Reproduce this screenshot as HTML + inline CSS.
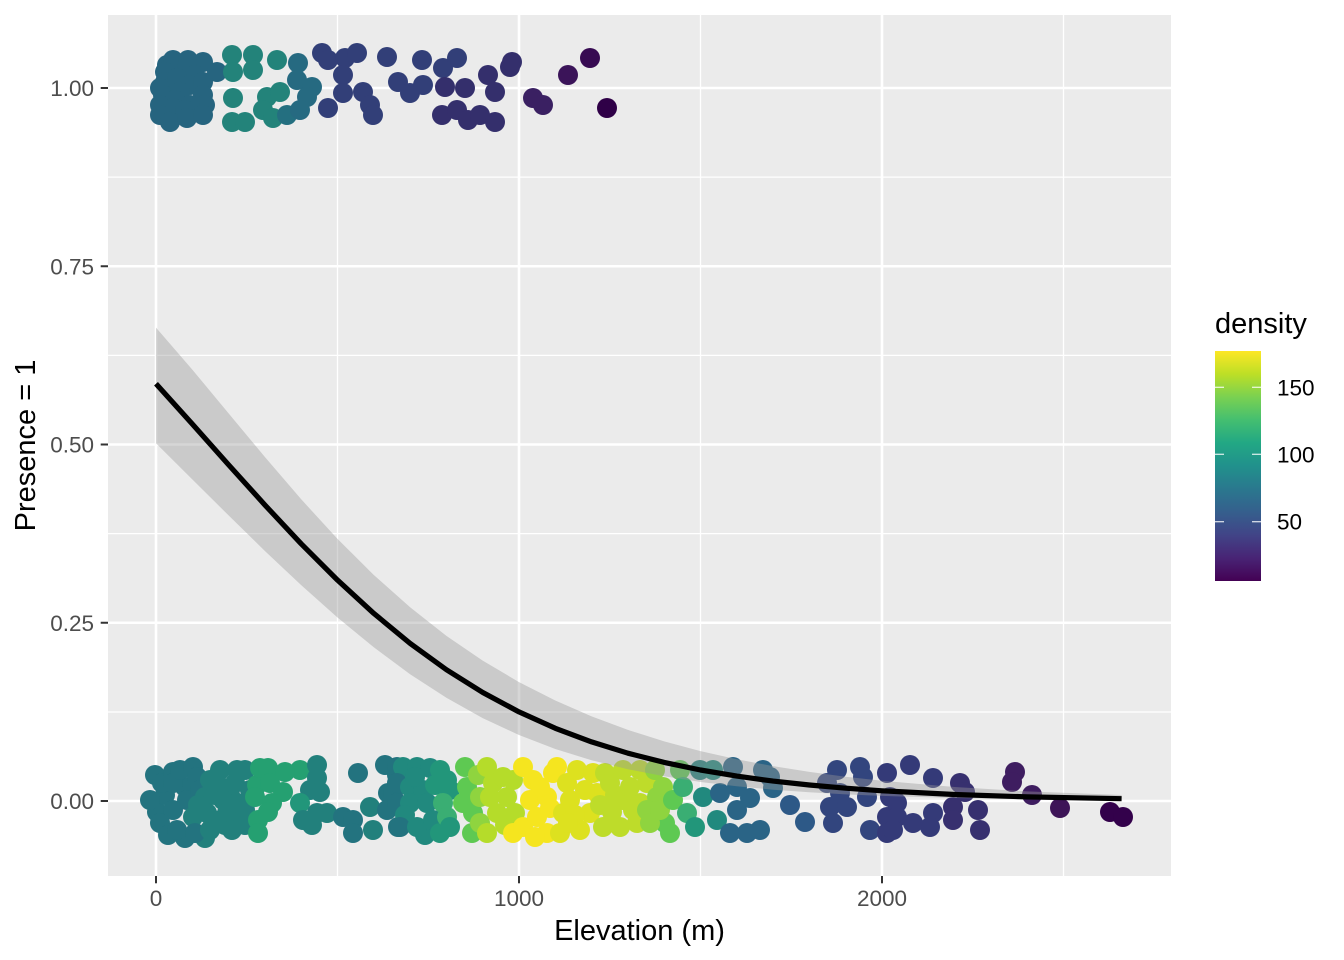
<!DOCTYPE html>
<html><head><meta charset="utf-8"><style>
html,body{margin:0;padding:0;background:#fff;}
svg{display:block;font-family:"Liberation Sans",Arial,sans-serif;}
circle{r:10px}
.A{fill:#26647f}.B{fill:#23837a}.B2{fill:#246f80}.C{fill:#266a81}.D{fill:#323f78}.E{fill:#342f6c}.F{fill:#3a2062}.G{fill:#3b1459}.G2{fill:#370a52}.H{fill:#2f0047}
.T1{fill:#23737f}.T2{fill:#22807c}.T3{fill:#21897e}.G1{fill:#25a071}.Gr2{fill:#22967a}.G3{fill:#3aae73}.L1{fill:#5ec952}.L2{fill:#8fd43f}
.Y1{fill:#b5dc2a}.Y2{fill:#dde11f}.Y3{fill:#f5e51f}.Y4{fill:#bedc2a}.T4{fill:#2a6486}.P1{fill:#2d5987}.P2{fill:#32457e}.P3{fill:#343a78}.P4{fill:#37306f}
.V1{fill:#3e1d60}.V2{fill:#3d1457}.V3{fill:#33014b}
</style></head><body>
<svg width="1344" height="960" viewBox="0 0 1344 960" xmlns="http://www.w3.org/2000/svg">
<defs>
<linearGradient id="vir" x1="0" y1="1" x2="0" y2="0">
<stop offset="0" stop-color="#440154"/><stop offset="0.1" stop-color="#482475"/><stop offset="0.2" stop-color="#414487"/><stop offset="0.3" stop-color="#355f8d"/><stop offset="0.4" stop-color="#2a788e"/><stop offset="0.5" stop-color="#21918c"/><stop offset="0.6" stop-color="#22a884"/><stop offset="0.7" stop-color="#44bf70"/><stop offset="0.8" stop-color="#7ad151"/><stop offset="0.9" stop-color="#bddf26"/><stop offset="1" stop-color="#fde725"/>
</linearGradient>
<clipPath id="pc"><rect x="108" y="15" width="1063" height="861"/></clipPath>
</defs>
<rect x="108" y="15" width="1063" height="861" fill="#ebebeb"/>
<g stroke="#fff" stroke-width="1.3">
<line x1="108" x2="1171" y1="177.1" y2="177.1"/><line x1="108" x2="1171" y1="355.4" y2="355.4"/><line x1="108" x2="1171" y1="533.6" y2="533.6"/><line x1="108" x2="1171" y1="712" y2="712"/>
<line y1="15" y2="876" x1="337.5" x2="337.5"/><line y1="15" y2="876" x1="700.5" x2="700.5"/><line y1="15" y2="876" x1="1063.5" x2="1063.5"/>
</g>
<g stroke="#fff" stroke-width="2.6">
<line x1="108" x2="1171" y1="88" y2="88"/><line x1="108" x2="1171" y1="266.25" y2="266.25"/><line x1="108" x2="1171" y1="444.5" y2="444.5"/><line x1="108" x2="1171" y1="622.75" y2="622.75"/><line x1="108" x2="1171" y1="801" y2="801"/>
<line y1="15" y2="876" x1="156" x2="156"/><line y1="15" y2="876" x1="519" x2="519"/><line y1="15" y2="876" x1="882" x2="882"/>
</g>
<g clip-path="url(#pc)">
<!-- top band -->
<circle class="A" cx="167" cy="65" r="10"/><circle class="A" cx="173" cy="60" r="10"/><circle class="A" cx="188" cy="60" r="10"/><circle class="A" cx="203" cy="62" r="10"/>
<circle class="A" cx="165" cy="72" r="10"/><circle class="A" cx="187" cy="68" r="10"/><circle class="A" cx="217" cy="72" r="10"/><circle class="A" cx="195" cy="75" r="10"/>
<circle class="A" cx="165" cy="82" r="10"/><circle class="A" cx="177" cy="78" r="10"/><circle class="A" cx="190" cy="85" r="10"/><circle class="A" cx="203" cy="82" r="10"/>
<circle class="A" cx="160" cy="88" r="10"/><circle class="A" cx="163" cy="95" r="10"/><circle class="A" cx="180" cy="92" r="10"/><circle class="A" cx="203" cy="95" r="10"/>
<circle class="A" cx="175" cy="100" r="10"/><circle class="A" cx="160" cy="105" r="10"/><circle class="A" cx="205" cy="105" r="10"/><circle class="A" cx="173" cy="108" r="10"/><circle class="A" cx="190" cy="105" r="10"/><circle class="A" cx="185" cy="110" r="10"/>
<circle class="A" cx="160" cy="115" r="10"/><circle class="A" cx="170" cy="122" r="10"/><circle class="A" cx="187" cy="118" r="10"/><circle class="A" cx="203" cy="115" r="10"/>
<circle class="B" cx="232" cy="55" r="10"/><circle class="B" cx="253" cy="55" r="10"/><circle class="B" cx="277" cy="60" r="10"/><circle class="B" cx="233" cy="72" r="10"/><circle class="B" cx="253" cy="70" r="10"/>
<circle class="B" cx="233" cy="98" r="10"/><circle class="B" cx="232" cy="122" r="10"/><circle class="B" cx="245" cy="122" r="10"/><circle class="B" cx="267" cy="97" r="10"/><circle class="B" cx="280" cy="92" r="10"/>
<circle class="B" cx="263" cy="110" r="10"/><circle class="B" cx="273" cy="118" r="10"/><circle class="B2" cx="287" cy="115" r="10"/>
<circle class="C" cx="298" cy="63" r="10"/><circle class="C" cx="297" cy="80" r="10"/><circle class="C" cx="312" cy="87" r="10"/><circle class="C" cx="307" cy="97" r="10"/><circle class="C" cx="300" cy="110" r="10"/>
<circle class="D" cx="322" cy="53" r="10"/><circle class="D" cx="328" cy="60" r="10"/><circle class="D" cx="345" cy="58" r="10"/><circle class="D" cx="357" cy="53" r="10"/><circle class="D" cx="343" cy="75" r="10"/>
<circle class="D" cx="343" cy="93" r="10"/><circle class="D" cx="328" cy="108" r="10"/><circle class="D" cx="363" cy="92" r="10"/><circle class="D" cx="370" cy="105" r="10"/><circle class="D" cx="373" cy="115" r="10"/>
<circle class="D" cx="387" cy="57" r="10"/><circle class="D" cx="422" cy="60" r="10"/><circle class="D" cx="443" cy="68" r="10"/><circle class="D" cx="457" cy="58" r="10"/><circle class="D" cx="398" cy="82" r="10"/>
<circle class="D" cx="410" cy="93" r="10"/><circle class="D" cx="423" cy="85" r="10"/>
<circle class="E" cx="445" cy="87" r="10"/><circle class="E" cx="465" cy="88" r="10"/><circle class="E" cx="442" cy="115" r="10"/><circle class="E" cx="457" cy="110" r="10"/><circle class="E" cx="468" cy="120" r="10"/>
<circle class="E" cx="480" cy="115" r="10"/><circle class="E" cx="495" cy="122" r="10"/><circle class="E" cx="488" cy="75" r="10"/><circle class="E" cx="495" cy="92" r="10"/><circle class="E" cx="510" cy="67" r="10"/><circle class="E" cx="512" cy="62" r="10"/>
<circle class="F" cx="533" cy="98" r="10"/><circle class="F" cx="543" cy="105" r="10"/><circle class="G" cx="568" cy="75" r="10"/><circle class="G2" cx="590" cy="58" r="10"/><circle class="H" cx="607" cy="108" r="10"/>
<!-- bottom band -->
<circle class="T1" cx="155" cy="775" r="10"/><circle class="T1" cx="157" cy="812" r="10"/><circle class="T1" cx="160" cy="823" r="10"/><circle class="T1" cx="165" cy="795" r="10"/><circle class="T1" cx="168" cy="835" r="10"/>
<circle class="T1" cx="150" cy="800" r="10"/><circle class="T1" cx="162" cy="783" r="10"/><circle class="T1" cx="185" cy="787" r="10"/><circle class="T1" cx="185" cy="838" r="10"/><circle class="T2" cx="205" cy="838" r="10"/>
<circle class="T1" cx="173" cy="772" r="10"/><circle class="T1" cx="173" cy="783" r="10"/><circle class="T1" cx="173" cy="810" r="10"/><circle class="T1" cx="177" cy="830" r="10"/><circle class="T1" cx="180" cy="770" r="10"/>
<circle class="T1" cx="187" cy="800" r="10"/><circle class="T1" cx="193" cy="767" r="10"/><circle class="T1" cx="197" cy="777" r="10"/><circle class="T2" cx="193" cy="817" r="10"/><circle class="T1" cx="195" cy="833" r="10"/>
<circle class="T1" cx="200" cy="790" r="10"/><circle class="T2" cx="205" cy="797" r="10"/><circle class="T2" cx="207" cy="813" r="10"/><circle class="T2" cx="210" cy="780" r="10"/><circle class="T2" cx="210" cy="830" r="10"/>
<circle class="T2" cx="198" cy="805" r="10"/><circle class="T2" cx="213" cy="820" r="10"/><circle class="T2" cx="230" cy="795" r="10"/><circle class="T2" cx="240" cy="818" r="10"/>
<circle class="T2" cx="215" cy="795" r="10"/><circle class="T2" cx="217" cy="783" r="10"/><circle class="T2" cx="220" cy="770" r="10"/><circle class="T2" cx="223" cy="800" r="10"/><circle class="T2" cx="225" cy="825" r="10"/>
<circle class="T2" cx="227" cy="813" r="10"/><circle class="T2" cx="232" cy="830" r="10"/><circle class="T2" cx="235" cy="783" r="10"/><circle class="T2" cx="237" cy="770" r="10"/><circle class="T2" cx="237" cy="803" r="10"/>
<circle class="T2" cx="245" cy="810" r="10"/><circle class="T2" cx="245" cy="825" r="10"/><circle class="T2" cx="250" cy="790" r="10"/><circle class="T2" cx="245" cy="770" r="10"/>
<circle class="G1" cx="257" cy="785" r="10"/><circle class="G1" cx="260" cy="768" r="10"/><circle class="G1" cx="268" cy="768" r="10"/><circle class="G1" cx="270" cy="783" r="10"/><circle class="G1" cx="283" cy="792" r="10"/>
<circle class="G1" cx="255" cy="797" r="10"/><circle class="G1" cx="258" cy="820" r="10"/><circle class="G1" cx="258" cy="833" r="10"/><circle class="G1" cx="272" cy="803" r="10"/><circle class="G1" cx="300" cy="770" r="10"/>
<circle class="G1" cx="285" cy="772" r="10"/><circle class="G1" cx="268" cy="812" r="10"/><circle class="T2" cx="310" cy="790" r="10"/>
<circle class="Gr2" cx="300" cy="803" r="10"/><circle class="T2" cx="303" cy="820" r="10"/><circle class="T2" cx="312" cy="825" r="10"/><circle class="T2" cx="317" cy="765" r="10"/><circle class="T2" cx="317" cy="778" r="10"/>
<circle class="T2" cx="320" cy="792" r="10"/><circle class="T2" cx="317" cy="813" r="10"/><circle class="T2" cx="327" cy="813" r="10"/>
<circle class="T1" cx="343" cy="817" r="10"/><circle class="T1" cx="353" cy="820" r="10"/><circle class="T1" cx="353" cy="833" r="10"/><circle class="T1" cx="358" cy="773" r="10"/><circle class="T2" cx="370" cy="807" r="10"/>
<circle class="T2" cx="373" cy="830" r="10"/><circle class="T1" cx="385" cy="765" r="10"/><circle class="T1" cx="388" cy="793" r="10"/><circle class="T1" cx="387" cy="810" r="10"/><circle class="T1" cx="393" cy="793" r="10"/>
<circle class="T1" cx="397" cy="775" r="10"/><circle class="T1" cx="398" cy="827" r="10"/>
<circle class="T1" cx="397" cy="767" r="10"/><circle class="T3" cx="403" cy="767" r="10"/><circle class="T3" cx="417" cy="767" r="10"/><circle class="T3" cx="430" cy="768" r="10"/><circle class="T1" cx="397" cy="783" r="10"/>
<circle class="T3" cx="410" cy="787" r="10"/><circle class="T3" cx="423" cy="790" r="10"/><circle class="T1" cx="397" cy="803" r="10"/><circle class="T3" cx="410" cy="803" r="10"/><circle class="T3" cx="427" cy="803" r="10"/>
<circle class="T3" cx="405" cy="815" r="10"/><circle class="T3" cx="425" cy="835" r="10"/><circle class="T3" cx="415" cy="777" r="10"/><circle class="Gr2" cx="440" cy="770" r="10"/>
<circle class="T1" cx="400" cy="827" r="10"/><circle class="T3" cx="417" cy="827" r="10"/><circle class="T3" cx="433" cy="820" r="10"/><circle class="Gr2" cx="440" cy="833" r="10"/><circle class="Gr2" cx="435" cy="785" r="10"/>
<circle class="Gr2" cx="447" cy="780" r="10"/><circle class="Gr2" cx="450" cy="790" r="10"/><circle class="G3" cx="443" cy="803" r="10"/><circle class="G3" cx="447" cy="817" r="10"/><circle class="Gr2" cx="450" cy="827" r="10"/>
<circle class="L1" cx="465" cy="767" r="10"/><circle class="L1" cx="467" cy="787" r="10"/><circle class="L1" cx="463" cy="803" r="10"/><circle class="L1" cx="473" cy="813" r="10"/><circle class="L1" cx="472" cy="833" r="10"/>
<circle class="L2" cx="478" cy="775" r="10"/><circle class="L2" cx="480" cy="797" r="10"/><circle class="L2" cx="480" cy="823" r="10"/>
<circle class="Y1" cx="487" cy="767" r="10"/><circle class="Y1" cx="493" cy="783" r="10"/><circle class="Y1" cx="490" cy="797" r="10"/><circle class="Y1" cx="497" cy="813" r="10"/><circle class="Y1" cx="487" cy="833" r="10"/>
<circle class="Y1" cx="503" cy="777" r="10"/><circle class="Y1" cx="507" cy="797" r="10"/><circle class="Y1" cx="513" cy="780" r="10"/><circle class="Y1" cx="505" cy="825" r="10"/><circle class="Y1" cx="515" cy="813" r="10"/><circle class="Y3" cx="513" cy="833" r="10"/>
<circle class="Y3" cx="523" cy="767" r="10"/><circle class="Y3" cx="533" cy="780" r="10"/><circle class="Y3" cx="530" cy="800" r="10"/><circle class="Y3" cx="523" cy="827" r="10"/><circle class="Y3" cx="537" cy="817" r="10"/>
<circle class="Y3" cx="547" cy="797" r="10"/><circle class="Y3" cx="547" cy="833" r="10"/><circle class="Y3" cx="553" cy="773" r="10"/><circle class="Y3" cx="557" cy="767" r="10"/>
<circle class="Y3" cx="540" cy="787" r="10"/><circle class="Y3" cx="550" cy="808" r="10"/><circle class="Y3" cx="535" cy="837" r="10"/>
<circle class="Y2" cx="567" cy="783" r="10"/><circle class="Y2" cx="563" cy="813" r="10"/><circle class="Y2" cx="560" cy="833" r="10"/><circle class="Y2" cx="570" cy="800" r="10"/><circle class="Y2" cx="577" cy="770" r="10"/>
<circle class="Y2" cx="580" cy="830" r="10"/><circle class="Y2" cx="590" cy="813" r="10"/><circle class="Y2" cx="593" cy="773" r="10"/><circle class="Y2" cx="597" cy="793" r="10"/><circle class="Y2" cx="575" cy="815" r="10"/><circle class="Y2" cx="585" cy="790" r="10"/>
<circle class="Y2" cx="568" cy="823" r="10"/><circle class="Y4" cx="600" cy="805" r="10"/><circle class="Y4" cx="605" cy="773" r="10"/><circle class="Y4" cx="615" cy="795" r="10"/>
<circle class="Y4" cx="603" cy="827" r="10"/><circle class="Y4" cx="610" cy="783" r="10"/><circle class="Y4" cx="623" cy="800" r="10"/><circle class="Y4" cx="623" cy="770" r="10"/><circle class="Y4" cx="620" cy="827" r="10"/>
<circle class="Y4" cx="637" cy="823" r="10"/><circle class="Y4" cx="640" cy="803" r="10"/><circle class="Y4" cx="647" cy="783" r="10"/><circle class="Y4" cx="640" cy="770" r="10"/><circle class="Y4" cx="612" cy="812" r="10"/><circle class="Y4" cx="630" cy="787" r="10"/>
<circle class="Y4" cx="633" cy="810" r="10"/><circle class="L2" cx="655" cy="770" r="10"/><circle class="L2" cx="657" cy="797" r="10"/><circle class="L1" cx="665" cy="823" r="10"/>
<circle class="L2" cx="647" cy="810" r="10"/><circle class="L2" cx="650" cy="823" r="10"/><circle class="L2" cx="660" cy="810" r="10"/><circle class="L2" cx="663" cy="787" r="10"/><circle class="L1" cx="670" cy="833" r="10"/>
<circle class="L1" cx="673" cy="800" r="10"/><circle class="L1" cx="680" cy="770" r="10"/><circle class="G3" cx="683" cy="787" r="10"/><circle class="G3" cx="687" cy="813" r="10"/><circle class="Gr2" cx="695" cy="827" r="10"/>
<circle class="T2" cx="700" cy="770" r="10"/><circle class="T3" cx="703" cy="797" r="10"/><circle class="T3" cx="713" cy="770" r="10"/><circle class="T3" cx="717" cy="820" r="10"/><circle class="T4" cx="720" cy="793" r="10"/>
<circle class="T4" cx="730" cy="833" r="10"/><circle class="T4" cx="733" cy="767" r="10"/><circle class="T4" cx="737" cy="810" r="10"/><circle class="T4" cx="737" cy="787" r="10"/><circle class="T4" cx="750" cy="798" r="10"/>
<circle class="T4" cx="747" cy="833" r="10"/><circle class="T4" cx="760" cy="830" r="10"/><circle class="T4" cx="763" cy="770" r="10"/><circle class="T4" cx="770" cy="777" r="10"/><circle class="T4" cx="773" cy="788" r="10"/>
<circle class="P1" cx="790" cy="805" r="10"/><circle class="P1" cx="805" cy="822" r="10"/>
<circle class="P2" cx="827" cy="783" r="10"/><circle class="P2" cx="830" cy="807" r="10"/><circle class="P2" cx="837" cy="770" r="10"/><circle class="P2" cx="840" cy="793" r="10"/><circle class="P2" cx="833" cy="823" r="10"/>
<circle class="P2" cx="847" cy="807" r="10"/><circle class="P2" cx="860" cy="767" r="10"/><circle class="P2" cx="863" cy="777" r="10"/><circle class="P2" cx="867" cy="797" r="10"/><circle class="P2" cx="870" cy="830" r="10"/>
<circle class="P3" cx="887" cy="773" r="10"/><circle class="P3" cx="890" cy="797" r="10"/><circle class="P3" cx="887" cy="817" r="10"/><circle class="P3" cx="887" cy="833" r="10"/>
<circle class="P3" cx="910" cy="765" r="10"/><circle class="P3" cx="933" cy="778" r="10"/><circle class="P3" cx="897" cy="803" r="10"/><circle class="P3" cx="897" cy="817" r="10"/><circle class="P3" cx="893" cy="830" r="10"/>
<circle class="P3" cx="913" cy="823" r="10"/><circle class="P3" cx="933" cy="813" r="10"/><circle class="P3" cx="930" cy="827" r="10"/>
<circle class="P4" cx="960" cy="783" r="10"/><circle class="P4" cx="965" cy="792" r="10"/><circle class="P4" cx="953" cy="807" r="10"/><circle class="P4" cx="953" cy="820" r="10"/><circle class="P4" cx="978" cy="810" r="10"/><circle class="P4" cx="980" cy="830" r="10"/>
<circle class="V1" cx="1015" cy="772" r="10"/><circle class="V1" cx="1012" cy="782" r="10"/><circle class="V1" cx="1032" cy="795" r="10"/><circle class="V2" cx="1060" cy="808" r="10"/><circle class="V3" cx="1110" cy="812" r="10"/><circle class="V3" cx="1123" cy="817" r="10"/>
<!-- ribbon -->
<path fill="#999999" fill-opacity="0.4" d="M156,327.6 L192.3,369.6 L228.6,413.4 L264.9,457.0 L301.2,499.3 L337.5,538.9 L373.8,575.0 L410.1,607.3 L446.4,635.9 L482.7,660.6 L519,682.1 L555.3,700.5 L591.6,716.4 L627.9,729.9 L664.2,741.4 L700.5,751.1 L736.8,759.3 L773.1,766.1 L809.4,771.9 L845.7,776.8 L882,780.8 L954.6,787.0 L1027.2,791.4 L1121.6,795.0 L1121.6,800.1 L1027.2,799.3 L954.6,798.0 L882,795.9 L845.7,794.4 L809.4,792.3 L773.1,789.7 L736.8,786.3 L700.5,782.0 L664.2,776.3 L627.9,769.2 L591.6,760.2 L555.3,749.0 L519,735.0 L482.7,718.1 L446.4,697.8 L410.1,674.3 L373.8,647.3 L337.5,617.5 L301.2,585.1 L264.9,551.0 L228.6,515.4 L192.3,479.4 L156,443.3 Z"/>
<polyline fill="none" stroke="#000" stroke-width="5.2" stroke-linejoin="round" points="156,383.8 192.3,424.0 228.6,464.8 264.9,505.0 301.2,543.8 337.5,580.1 373.8,613.4 410.1,643.4 446.4,669.7 482.7,692.4 519,711.9 555.3,728.3 591.6,741.9 627.9,753.2 664.2,762.4 700.5,770.0 736.8,776.1 773.1,781.1 809.4,785.0 845.7,788.2 882,790.8 954.6,794.5 1027.2,796.9 1121.6,798.7"/>
</g>
<!-- axes ticks -->
<g stroke="#333" stroke-width="2">
<line x1="100.7" x2="108" y1="88" y2="88"/><line x1="100.7" x2="108" y1="266.25" y2="266.25"/><line x1="100.7" x2="108" y1="444.5" y2="444.5"/><line x1="100.7" x2="108" y1="622.75" y2="622.75"/><line x1="100.7" x2="108" y1="801" y2="801"/>
<line y1="876" y2="883.3" x1="156" x2="156"/><line y1="876" y2="883.3" x1="519" x2="519"/><line y1="876" y2="883.3" x1="882" x2="882"/>
</g>
<g fill="#4d4d4d" font-size="22.5" text-anchor="end">
<text x="94" y="96">1.00</text><text x="94" y="274.25">0.75</text><text x="94" y="452.5">0.50</text><text x="94" y="630.75">0.25</text><text x="94" y="809">0.00</text>
</g>
<g fill="#4d4d4d" font-size="22.5" text-anchor="middle">
<text x="156" y="906">0</text><text x="519" y="906">1000</text><text x="882" y="906">2000</text>
</g>
<text x="639.5" y="940" font-size="29" text-anchor="middle" fill="#000">Elevation (m)</text>
<text transform="translate(35,445.5) rotate(-90)" font-size="29" text-anchor="middle" fill="#000">Presence = 1</text>
<!-- legend -->
<text x="1215" y="333" font-size="29" fill="#000">density</text>
<rect x="1215" y="351" width="46" height="230" fill="url(#vir)"/>
<g stroke="#fff" stroke-opacity="0.8" stroke-width="1.3">
<line x1="1215" x2="1224" y1="387.3" y2="387.3"/><line x1="1252" x2="1261" y1="387.3" y2="387.3"/>
<line x1="1215" x2="1224" y1="454.3" y2="454.3"/><line x1="1252" x2="1261" y1="454.3" y2="454.3"/>
<line x1="1215" x2="1224" y1="521.7" y2="521.7"/><line x1="1252" x2="1261" y1="521.7" y2="521.7"/>
</g>
<g fill="#000" font-size="22.5">
<text x="1277" y="395.3">150</text><text x="1277" y="462.3">100</text><text x="1277" y="529.7">50</text>
</g>
</svg>
</body></html>
